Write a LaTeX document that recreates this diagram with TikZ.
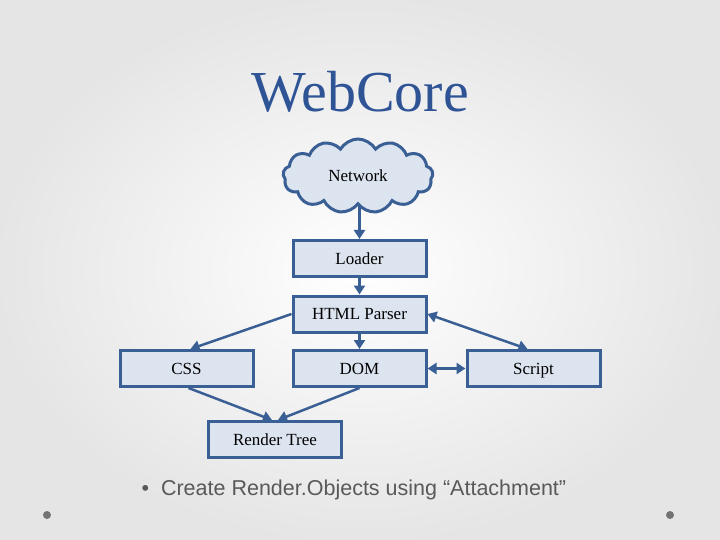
\documentclass[tikz,border=0pt]{standalone}
\usepackage{fontspec}
\setmainfont{Liberation Serif}
\newfontfamily\bodysans{Liberation Sans}
\usetikzlibrary{shapes.symbols,arrows.meta}
\definecolor{edge}{HTML}{3A5F95}
\definecolor{boxfill}{HTML}{DCE4EF}
\definecolor{titleblue}{HTML}{2F5496}
\begin{document}
\begin{tikzpicture}[x=1pt,y=-1pt,
  box/.style={draw=edge,line width=3pt,fill=boxfill,minimum width=133pt,minimum height=36pt,inner sep=0pt,font=\fontsize{17}{20}\selectfont},
  arr/.style={draw=edge,line width=2.5pt,-{Triangle[length=9pt,width=11pt]}},
  darr/.style={draw=edge,line width=2.5pt,{Triangle[length=9pt,width=11pt]}-{Triangle[length=9pt,width=11pt]}}]
\useasboundingbox (0,0) rectangle (720,540);
\shade[inner color=white,outer color=black!10] (0,0) rectangle (720,540);
\node[font=\fontsize{58}{64}\selectfont,text=titleblue] (title) at (360,92) {WebCore};
\node[cloud,cloud puffs=13,cloud puff arc=120,aspect=2.1,draw=edge,line width=3pt,fill=boxfill,minimum width=150pt,minimum height=74pt,font=\fontsize{17}{20}\selectfont] (net) at (358,176) {Network};
\node[box] (loader) at (359.5,258.5) {Loader};
\node[box] (html) at (359.5,314) {HTML Parser};
\node[box] (css) at (186.5,368.5) {CSS};
\node[box] (dom) at (359.5,368.5) {DOM};
\node[box,text depth=0pt] (script) at (533.5,368.5) {Script};
\node[box] (rt) at (275,439.5) {Render Tree};
\draw[arr] (net.south -| loader.north) -- (loader.north);
\draw[arr] (loader) -- (html);
\draw[arr] (html.west) -- ([xshift=4pt]css.north);
\draw[arr] (html) -- (dom);
\draw[darr] (html.east) -- ([xshift=-6pt]script.north);
\draw[darr] (dom) -- (script);
\draw[arr] ([xshift=2pt]css.south) -- ([xshift=-3pt]rt.north);
\draw[arr] (dom.south) -- ([xshift=3pt]rt.north);
\node[anchor=west,text=black!65,font=\bodysans\fontsize{21.5}{26}\selectfont] (bul) at (138,490) {\textbullet\hspace{12pt}Create Render.Objects using “Attachment”};
\fill[black!55] (47,515) circle (4pt) (670,515) circle (4pt);
\end{tikzpicture}
\end{document}
